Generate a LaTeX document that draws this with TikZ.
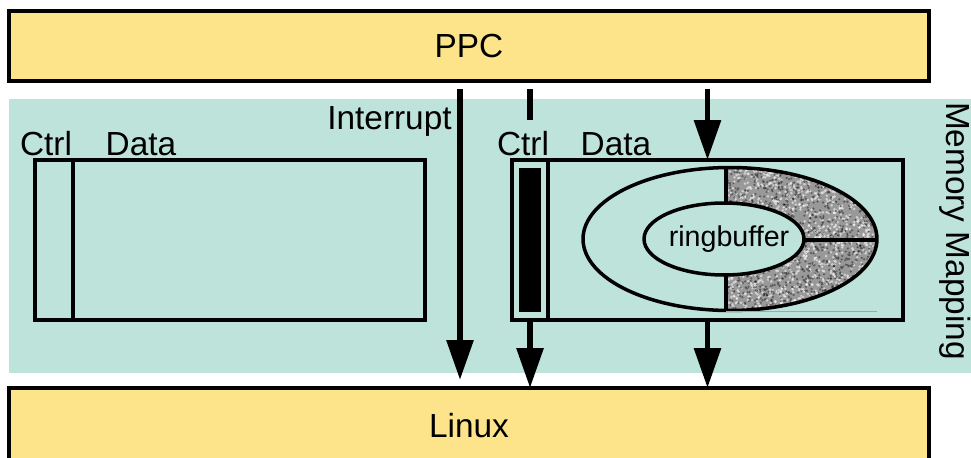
\documentclass[tikz,border=0pt]{standalone}
\usepackage{fontspec}
\setmainfont{Liberation Sans}
\usetikzlibrary{arrows.meta, positioning}
\definecolor{busyellow}{RGB}{253, 227, 137}
\definecolor{mapteal}{RGB}{190, 227, 218}

\begin{document}
\begin{tikzpicture}[x=0.02cm, y=-0.02cm,
                bus/.style={rectangle, draw=black, fill=busyellow, line width=2.2pt, minimum width=18.4cm, minimum height=1.4cm, outer sep=0pt, font=\fontsize{19}{22}\selectfont},
                membox/.style={rectangle, draw=black, line width=2.2pt, minimum width=7.8cm, minimum height=3.2cm, outer sep=0pt},
                ctrlcol/.style={rectangle, draw=black, line width=2.2pt, minimum width=0.76cm, minimum height=3.2cm, outer sep=0pt},
                lbl/.style={inner sep=0pt, font=\fontsize{19}{22}\selectfont},
                bigarrow/.style={line width=3.4pt, -{Triangle[width=0.52cm, length=0.8cm]}},
                ring/.style={line width=2pt}
            ]
                \useasboundingbox (0,0) rectangle (971,457);
                \clip (0,0) rectangle (971,457);

                % memory mapped area
                \fill[mapteal] (9,99) rectangle (980,373);
                \node[lbl, rotate=-90, anchor=base] (memmap) at (946,231) {Memory Mapping};

                \node[bus] (ppc) at (469,46) {PPC};
                \node[bus, minimum height=1.52cm] (linux) at (469,426) {Linux};

                % left buffer
                \node[membox] (ldata) at (230,240) {};
                \node[ctrlcol, anchor=west] (lctrl) at (ldata.west) {};
                \node[lbl, anchor=base] (lctrltxt) at (46,155) {Ctrl};
                \node[lbl, anchor=base] (ldatatxt) at (141,155) {Data};

                % right buffer
                \node[membox, minimum width=7.82cm] (rdata) at (707.5,240) {};
                \node[ctrlcol, anchor=west, minimum width=0.72cm] (rctrl) at (rdata.west) {};
                \node[fill=black, minimum width=0.44cm, minimum height=2.88cm, inner sep=0pt] (rflag) at (rctrl) {};
                \node[lbl, anchor=base] (rctrltxt) at (523,155) {Ctrl};
                \node[lbl, anchor=base] (rdatatxt) at (616,155) {Data};

                % ringbuffer, filled half
                \begin{scope}
                    \clip (726,150) rectangle (890,330);
                    \clip (730,239) ellipse [x radius=2.94cm, y radius=1.43cm];
                    \fill[black!40] (726,150) rectangle (890,330);
                    \pgfmathsetseed{7}
                    \foreach \i in {1,...,1300} {
                        \fill[white, opacity=0.55] ({726+rnd*152},{167+rnd*145}) circle (0.8pt);
                        \fill[black, opacity=0.4] ({726+rnd*152},{167+rnd*145}) circle (0.7pt);
                    }
                \end{scope}
                \draw[ring] (730,239) ellipse [x radius=2.94cm, y radius=1.43cm];
                \draw[ring, fill=mapteal] (724,239) ellipse [x radius=1.6cm, y radius=0.72cm];
                \draw[ring] (726,167.5) -- (726,203);
                \draw[ring] (726,275) -- (726,310.5);
                \draw[ring] (804,240) -- (877,240);
                \draw[gray!70, line width=0.5pt] (726,311) -- (877,311);
                \node[inner sep=0pt, font=\fontsize{16.3}{18}\selectfont] (ringtxt) at (729,239) {ringbuffer};

                % interrupt line
                \coordinate (irqend) at (460,380);
                \node[lbl, anchor=base east] (irqtxt) at (452,129) {Interrupt};
                \draw[bigarrow, shorten <=0.16cm] (ppc.south -| irqend) -- (irqend);

                % ctrl and data lines
                \coordinate (ctrlin) at (530,120);
                \draw[line width=3.4pt, shorten <=0.16cm] (ppc.south -| ctrlin) -- (ctrlin);
                \draw[bigarrow] (rctrl.south) -- (linux.north -| rctrl.south);
                \draw[bigarrow, shorten <=0.16cm] (ppc.south -| rdata.north) -- (rdata.north);
                \draw[bigarrow] (rdata.south) -- (linux.north -| rdata.south);
            \end{tikzpicture}
\end{document}
